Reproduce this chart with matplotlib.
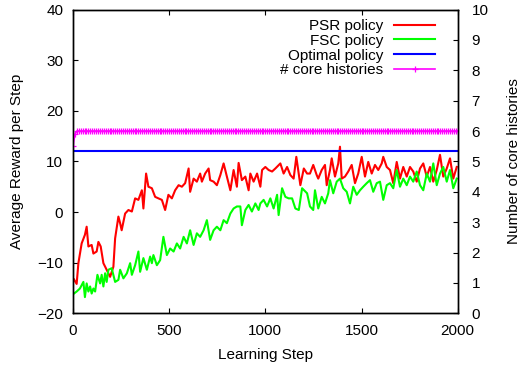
import matplotlib
matplotlib.use("Agg")
import matplotlib.pyplot as plt

plt.rcParams['font.family'] = ['Liberation Sans', 'DejaVu Sans']

# ---- data ----
psr_steps = [5, 19, 28, 45, 62, 71, 80, 97, 106, 123, 132, 144, 158, 175, 193, 210, 219, 236, 245, 253,
             271, 288, 306, 323, 340, 358, 366, 380, 392, 410, 427, 444, 462, 479, 496, 514, 531, 549, 566, 583,
             601, 609, 627, 644, 661, 670, 687, 705, 713, 731, 748, 766, 783, 800, 818, 835, 852, 861, 878, 896,
             913, 922, 939, 957, 974, 983, 1000, 1017, 1035, 1052, 1078, 1095, 1113, 1130, 1147, 1161, 1182, 1200, 1217,
             1232, 1249, 1267, 1275, 1293, 1310, 1319, 1336, 1345, 1362, 1379, 1388, 1397, 1414, 1431, 1449, 1466, 1483,
             1501, 1518, 1535, 1553, 1570, 1587, 1605, 1613, 1631, 1648, 1665, 1683, 1700, 1717, 1735, 1752, 1769, 1787,
             1804, 1821, 1839, 1856, 1873, 1891, 1908, 1925, 1943, 1960, 1977, 1995]
psr_reward = [-13.3, -14.2, -10.1, -6.2, -4.5, -2.9, -6.8, -6.5, -8.2, -7.8, -5.9, -6.8, -10.1, -11.4, -12.8, -10.8, -5.2, -0.9, -2.2, -3.6,
              -0.3, 0.4, 0.1, 2.7, 2.4, 4.3, 0.7, 7.6, 5.0, 4.7, 3.0, 2.7, 2.4, 0.4, 3.4, 2.7, 4.3, 5.3, 5.0, 5.7,
              8.6, 4.0, 6.6, 6.0, 7.6, 6.0, 7.6, 8.6, 6.3, 6.0, 5.3, 7.3, 9.6, 7.0, 4.3, 8.3, 5.0, 9.7, 6.3, 7.0,
              4.3, 7.6, 6.0, 7.6, 5.0, 8.3, 8.9, 8.3, 8.0, 8.6, 9.6, 7.6, 8.9, 7.3, 6.6, 10.9, 5.3, 8.6, 7.6,
              7.6, 9.3, 7.3, 6.6, 8.3, 9.3, 5.3, 8.3, 10.6, 7.0, 9.6, 12.9, 6.6, 7.0, 8.0, 9.3, 5.7, 7.6,
              10.9, 7.0, 9.9, 7.6, 9.3, 8.3, 9.6, 10.9, 8.9, 8.3, 5.7, 9.9, 6.6, 8.9, 7.0, 8.9, 8.0, 6.0,
              8.6, 9.6, 7.0, 8.9, 6.0, 8.3, 11.3, 7.0, 8.6, 10.6, 6.6, 8.9]

fsc_steps = [5, 19, 36, 54, 62, 71, 80, 89, 97, 106, 115, 127, 141, 149, 158, 167, 175, 184, 201, 219,
             236, 245, 262, 280, 297, 306, 323, 340, 349, 366, 384, 401, 410, 418, 436, 453, 470, 488, 505, 523,
             540, 557, 575, 592, 609, 627, 644, 661, 679, 696, 713, 731, 748, 766, 783, 800, 818, 835, 852, 870,
             878, 896, 913, 930, 948, 965, 974, 991, 1009, 1026, 1043, 1061, 1069, 1087, 1104, 1121, 1139, 1156, 1174,
             1191, 1217, 1232, 1249, 1258, 1275, 1293, 1310, 1327, 1336, 1353, 1371, 1388, 1405, 1423, 1440, 1457, 1475,
             1492, 1509, 1527, 1544, 1561, 1579, 1596, 1613, 1631, 1648, 1665, 1683, 1700, 1717, 1735, 1752, 1769, 1787,
             1804, 1821, 1839, 1856, 1873, 1891, 1908, 1925, 1943, 1960, 1977, 1995]
fsc_reward = [-16.1, -15.7, -15.1, -13.8, -16.8, -14.1, -15.7, -14.7, -16.1, -15.1, -15.7, -12.4, -14.1, -12.4, -14.7, -12.1, -13.8, -11.4, -11.1, -13.8,
              -13.4, -11.4, -13.1, -12.1, -10.1, -12.4, -10.5, -7.8, -11.8, -9.1, -11.4, -8.8, -10.1, -8.5, -10.5, -9.5, -4.9, -8.5, -7.2, -7.8,
              -6.2, -7.2, -4.9, -6.2, -3.6, -6.5, -4.2, -4.9, -3.6, -1.6, -5.5, -3.6, -2.9, -3.6, -1.6, -2.2, -0.3, 0.7, 1.1, 1.1,
              -2.6, 0.4, 1.4, 0.1, 1.7, 0.4, 1.7, 2.4, 1.1, 2.7, 0.7, 3.4, -0.6, 4.7, 3.0, 2.7, 2.7, 0.7, 0.4,
              4.7, 3.7, 1.1, 0.4, 4.3, 0.7, 3.0, 1.7, 3.7, 6.3, 3.7, 6.0, 6.6, 4.7, 4.0, 1.7, 5.0, 3.4,
              4.3, 5.0, 5.7, 6.3, 4.0, 5.7, 6.0, 2.4, 5.3, 5.7, 4.7, 8.3, 5.0, 6.6, 5.3, 7.0, 6.0, 8.0,
              5.3, 4.3, 7.6, 6.0, 9.6, 5.3, 7.6, 8.9, 6.0, 8.3, 4.7, 6.6]

optimal_steps = [0, 2000]
optimal_reward = [12.0, 12.0]

core_steps = list(range(0, 2001, 10))
core_histories = [5.5, 5.9] + [6.0] * 199

x_ticks = [0, 500, 1000, 1500, 2000]
y_ticks = [-20, -10, 0, 10, 20, 30, 40]
y2_ticks = list(range(0, 11))

# ---- figure ----
W, H = 522, 367
fig = plt.figure(figsize=(W / 100, H / 100), dpi=100)
ax = fig.add_axes([73 / W, 1 - 313.3 / H, (457.7 - 73) / W, (313.3 - 9.5) / H])
ax2 = ax.twinx()

fs = 11
l1, = ax.plot(psr_steps, psr_reward, color='#ff0000', lw=1.5, label='PSR policy')
l2, = ax.plot(fsc_steps, fsc_reward, color='#00ff00', lw=1.5, label='FSC policy')
l3, = ax.plot(optimal_steps, optimal_reward, color='#0000ff', lw=1.5, label='Optimal policy')
l4, = ax2.plot(core_steps, core_histories, color='#ff00ff', lw=1.2, marker='+', ms=4.5, mew=0.9,
               label='# core histories')

ax.set_xlim(0, 2000)
ax.set_ylim(-20, 40)
ax2.set_ylim(0, 10)
ax.set_xticks(x_ticks)
ax.set_yticks(y_ticks)
ax2.set_yticks(y2_ticks)
ax.set_yticklabels([str(v).replace('-', '\u2212') for v in y_ticks])

ax.tick_params(axis='x', direction='in', top=True, length=3.8, width=0.8, labelsize=fs, pad=7.5)
ax.tick_params(axis='y', direction='in', right=False, length=3.8, width=0.8, labelsize=fs, pad=7)
ax2.tick_params(axis='y', direction='in', length=3.8, width=0.8, labelsize=fs, pad=10)

for a in (ax, ax2):
    for s in a.spines.values():
        s.set_linewidth(1.0)

ax.set_xlabel('Learning Step', fontsize=fs, labelpad=7.5)
ax.set_ylabel('Average Reward per Step', fontsize=fs, labelpad=9.5)
ax2.set_ylabel('Number of core histories', fontsize=fs, labelpad=13)

leg = ax2.legend(handles=[l1, l2, l3, l4], loc='upper right', bbox_to_anchor=(0.978, 1.014),
                 frameon=False, markerfirst=False, fontsize=fs, handlelength=2.7,
                 handletextpad=0.7, labelspacing=0.05, borderaxespad=0.5)
for t in leg.get_texts():
    t.set_ha('right')

fig.savefig('out.png', dpi=100)
